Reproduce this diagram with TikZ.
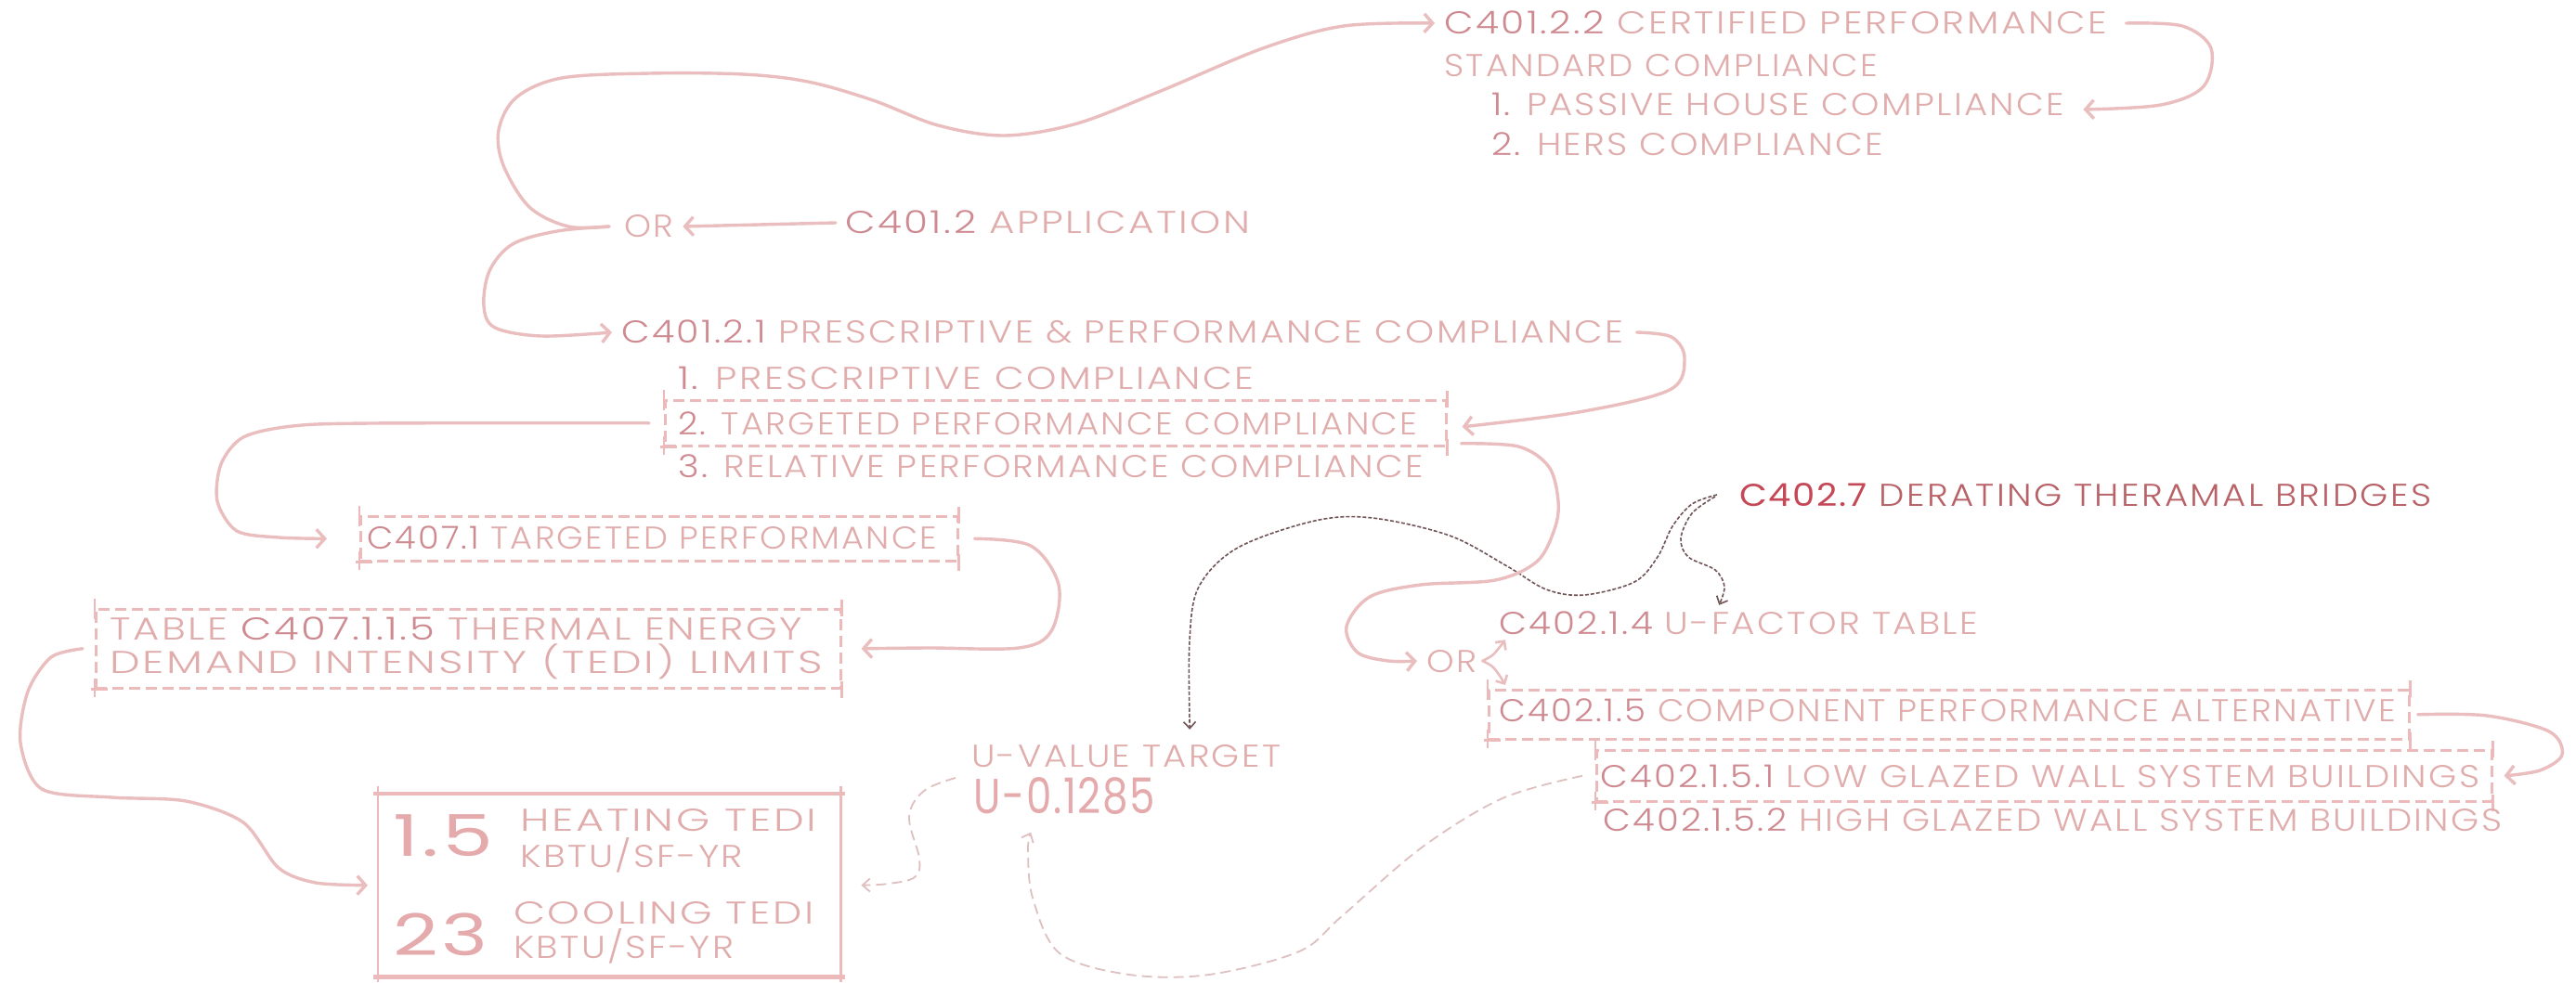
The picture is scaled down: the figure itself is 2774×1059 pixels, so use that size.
\documentclass[tikz,border=0pt]{standalone}
\usepackage{fontspec}
\usepackage{graphicx}
\usetikzlibrary{arrows.meta}
\newfontfamily\hand{Poppins Light}[LetterSpace=6]
\newfontfamily\handreg{Poppins}[LetterSpace=4]
\definecolor{txtC}{RGB}{224,172,172}
\definecolor{codeC}{RGB}{206,138,144}
\definecolor{lineC}{RGB}{234,190,190}
\definecolor{boxC}{RGB}{236,186,186}
\definecolor{numC}{RGB}{228,170,172}
\definecolor{redC}{RGB}{196,72,86}
\definecolor{redT}{RGB}{184,98,104}
\definecolor{darkD}{RGB}{112,84,86}
\definecolor{lightD}{RGB}{222,192,192}
\newcommand\fitw[2]{\resizebox{#1pt}{\height}{#2}}
\newcommand\cd[1]{{\color{codeC}#1}}
\begin{document}
\begin{tikzpicture}[x=1pt,y=-1pt,
  txt/.style={inner sep=0pt, anchor=west, text height=24pt, text depth=0pt,
    font=\hand\fontsize{34}{40}\selectfont, text=txtC},
  bignum/.style={inner sep=0pt, anchor=west, text height=44pt, text depth=0pt,
    font=\handreg\fontsize{62}{70}\selectfont, text=numC},
  midnum/.style={inner sep=0pt, anchor=west, text height=37pt, text depth=0pt,
    font=\handreg\fontsize{53}{60}\selectfont, text=numC},
  dbox/.style={draw=boxC, line width=2.6pt, dash pattern=on 12pt off 6pt,
    inner sep=0pt, anchor=north west},
  tick/.style={draw=boxC, line width=2.4pt, solid},
  con/.style={draw=lineC, line width=3.4pt, line cap=round,
    -{Straight Barb[length=9pt,width=20pt]}},
  conthin/.style={draw=lineC, line width=2.6pt, line cap=round,
    -{Straight Barb[length=7pt,width=14pt]}},
  ddash/.style={draw=darkD, line width=1.6pt, dash pattern=on 4pt off 2pt,
    -{Straight Barb[length=7pt,width=13pt]}},
  ldash/.style={draw=lightD, line width=1.8pt, dash pattern=on 11pt off 6pt,
    -{Straight Barb[length=8pt,width=14pt]}},
  rline/.style={draw=boxC, line width=4.5pt},
  rside/.style={draw=boxC, line width=2.4pt}
]
\fill[white] (0,0) rectangle (2774,1059);
\useasboundingbox (0,0) rectangle (2774,1059);

% ---- boxes
\node[dbox, minimum width=841pt, minimum height=49pt] (b2) at (715,430) {};
\node[dbox, minimum width=643pt, minimum height=48pt] (b407) at (387,555) {};
\node[dbox, minimum width=802pt, minimum height=85pt] (btab) at (102,655) {};
\node[dbox, minimum width=991pt, minimum height=53pt] (b15) at (1602,742) {};
\node[dbox, minimum width=964pt, minimum height=55pt] (b151) at (1718,807) {};
\node[inner sep=0pt, anchor=north west, minimum width=498pt, minimum height=197pt] (result) at (407,855) {};

\foreach \b in {b2,b407,btab,b15,b151}{
  \draw[tick] ([yshift=10pt]\b.north west) -- ([yshift=-12pt]\b.north west);
  \draw[tick] ([yshift=12pt]\b.south west) -- ([yshift=-8pt]\b.south west);
  \draw[tick] ([xshift=-4pt]\b.south west) -- ([xshift=14pt]\b.south west);
  \draw[tick] ([yshift=9pt]\b.north east) -- ([yshift=-9pt]\b.north east);
  \draw[tick] ([yshift=9pt]\b.south east) -- ([yshift=-9pt]\b.south east);
}
\draw[rline] ([xshift=-5pt]result.north west) -- ([xshift=5pt]result.north east);
\draw[rline] ([xshift=-5pt]result.south west) -- ([xshift=5pt]result.south east);
\draw[rside] ([yshift=8pt]result.north west) -- ([yshift=-6pt]result.south west);
\draw[rside] ([yshift=8pt]result.north east) -- ([yshift=-6pt]result.south east);

% ---- texts
\node[txt] (n1) at (1555,25) {\fitw{714}{\cd{C401.2.2} CERTIFIED PERFORMANCE}};
\node[txt] (n1b) at (1555,71) {\fitw{467}{STANDARD COMPLIANCE}};
\node[txt] (n1c) at (1606,113) {\fitw{617}{\cd{1.} PASSIVE HOUSE COMPLIANCE}};
\node[txt] (n1d) at (1606,156) {\fitw{422}{\cd{2.} HERS COMPLIANCE}};
\node[txt] (orA) at (672,244) {\fitw{53}{OR}};
\node[txt] (app) at (910,240) {\fitw{436}{\cd{C401.2} APPLICATION}};
\node[txt] (n2) at (669,358) {\fitw{1079}{\cd{C401.2.1} PRESCRIPTIVE \& PERFORMANCE COMPLIANCE}};
\node[txt] (n2a) at (730,407) {\fitw{620}{\cd{1.} PRESCRIPTIVE COMPLIANCE}};
\node[txt] (n2b) at (730,456) {\fitw{796}{\cd{2.} TARGETED PERFORMANCE COMPLIANCE}};
\node[txt] (n2c) at (730,502) {\fitw{803}{\cd{3.} RELATIVE PERFORMANCE COMPLIANCE}};
\node[txt] (t407) at (395,579) {\fitw{614}{\cd{C407.1} TARGETED PERFORMANCE}};
\node[txt] (tab1) at (118,677) {\fitw{746}{TABLE \cd{C407.1.1.5} THERMAL ENERGY}};
\node[txt] (tab2) at (118,713) {\fitw{768}{DEMAND INTENSITY (TEDI) LIMITS}};
\node[bignum] (v15) at (423,900) {\fitw{108}{1.5}};
\node[txt] (heat1) at (560,883) {\fitw{319}{HEATING TEDI}};
\node[txt] (heat2) at (560,922) {\fitw{240}{KBTU/SF-YR}};
\node[bignum] (v23) at (423,1007) {\fitw{102}{23}};
\node[txt] (cool1) at (553,983) {\fitw{323}{COOLING TEDI}};
\node[txt] (cool2) at (553,1020) {\fitw{237}{KBTU/SF-YR}};
\node[txt] (uvt) at (1046,814) {\fitw{333}{U-VALUE TARGET}};
\node[midnum] (u0) at (1048,858) {\fitw{196}{U-0.1285}};
\node[txt] (c4027) at (1873,533) {\fitw{745}{{\handreg\color{redC}C402.7} {\color{redT}DERATING THERAMAL BRIDGES}}};
\node[txt] (orB) at (1536,712) {\fitw{54}{OR}};
\node[txt] (c4014) at (1614,671) {\fitw{516}{\cd{C402.1.4} U-FACTOR TABLE}};
\node[txt] (t15) at (1614,765) {\fitw{966}{\cd{C402.1.5} COMPONENT PERFORMANCE ALTERNATIVE}};
\node[txt] (t151) at (1723,836) {\fitw{947}{\cd{C402.1.5.1} LOW GLAZED WALL SYSTEM BUILDINGS}};
\node[txt] (t152) at (1726,883) {\fitw{968}{\cd{C402.1.5.2} HIGH GLAZED WALL SYSTEM BUILDINGS}};

% ---- connectors
\draw[con] ([xshift=-10pt]app.west) -- ([xshift=10pt]orA.east);
\draw[con] plot[smooth, tension=0.55] coordinates {([xshift=-16pt]orA.west) (612,244) (570,223) (542,178) (537,140) (556,105) (605,84) (700,79) (800,80) (870,88) (940,108) (1010,135) (1082,146) (1160,133) (1250,98) (1360,52) (1447,28) ([xshift=-10pt]n1.west)};
\draw[con] plot[smooth, tension=0.55] coordinates {([xshift=-16pt]orA.west) (600,249) (552,263) (527,292) (521,330) (533,353) (583,362) ([xshift=-10pt]n2.west)};
\draw[con] plot[smooth, tension=0.55] coordinates {([xshift=14pt]n2.east) (1800,363) (1814,386) (1798,420) (1700,444) ([xshift=16pt,yshift=-4pt]b2.east)};
\draw[con] plot[smooth, tension=0.5] coordinates {([xshift=-16pt]b2.west) (400,456) (315,459) (262,471) (238,500) (234,540) (255,572) (300,579) ([xshift=-35pt]b407.west)};
\draw[con] plot[smooth, tension=0.55] coordinates {([xshift=17pt]b407.east) (1110,588) (1140,630) (1132,680) (1097,698) (1000,698) ([xshift=21pt]btab.east)};
\draw[con] plot[smooth, tension=0.5] coordinates {([xshift=-13pt]btab.west) (55,708) (30,745) (22,800) (45,850) (120,859) (200,863) (262,886) (300,935) (340,951) ([xshift=-11pt]result.west)};
\draw[ldash] plot[smooth, tension=0.6] coordinates {([xshift=-19pt,yshift=20pt]u0.west) (995,852) (979,880) (990,925) (985,945) (957,952) ([xshift=22pt]result.east)};
\draw[ldash] plot[smooth, tension=0.55] coordinates {([xshift=-14pt]b151.west) (1618,860) (1531,913) (1445,987) (1399,1025) (1302,1050) (1216,1050) (1141,1027) (1112,967) (1107,915) ([xshift=-36pt,yshift=-20pt]u0.south)};
\draw[ddash] plot[smooth, tension=0.55] coordinates {([xshift=-24pt]c4027.west) (1822,543) (1801,567) (1785,600) (1760,627) (1706,641) (1665,635) (1623,610) (1561,577) (1478,558) (1416,561) (1333,590) (1291,632) (1281,690) ([xshift=68.5pt,yshift=16pt]uvt.north)};
\draw[ddash] plot[smooth, tension=0.55] coordinates {([xshift=-26pt,yshift=-2pt]c4027.west) (1822,553) (1810,580) (1818,600) (1847,614) (1857,632) ([xshift=-21pt,yshift=7pt]c4014.north)};
\draw[con] plot[smooth, tension=0.55] coordinates {([xshift=15pt,yshift=-22pt]b2.east) (1635,481) (1668,503) (1678,540) (1674,570) (1655,605) (1610,625) (1530,630) (1475,643) (1450,675) (1462,703) (1495,712) ([xshift=-10pt]orB.west)};
\draw[conthin] plot[smooth, tension=0.6] coordinates {([xshift=6pt]orB.east) (1607,706) (1615,697) ([xshift=7pt,yshift=-6pt]c4014.south west)};
\draw[conthin] plot[smooth, tension=0.6] coordinates {([xshift=6pt]orB.east) (1607,718) (1615,728) ([xshift=19pt,yshift=4pt]b15.north west)};
\draw[con] plot[smooth, tension=0.55] coordinates {([xshift=8pt]b15.east) (2678,771) (2745,788) (2759,813) (2735,830) ([xshift=12pt]b151.east)};
\draw[con] plot[smooth, tension=0.55] coordinates {([xshift=20pt]n1.east) (2350,28) (2381,52) (2373,93) (2327,113) ([xshift=20pt,yshift=-5pt]n1c.east)};
\end{tikzpicture}
\end{document}
